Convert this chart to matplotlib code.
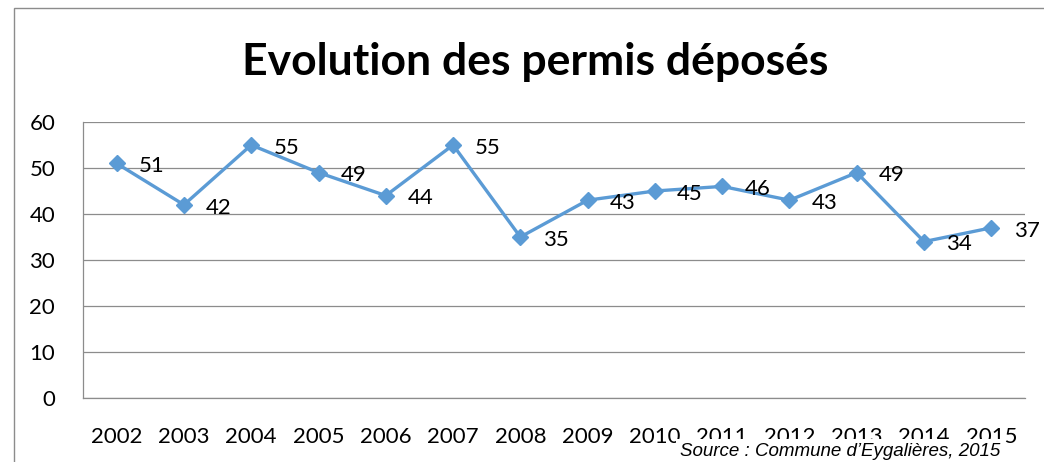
import matplotlib
matplotlib.use("Agg")
import matplotlib.pyplot as plt
from matplotlib.patches import Rectangle

years = ["2002", "2003", "2004", "2005", "2006", "2007", "2008", "2009",
         "2010", "2011", "2012", "2013", "2014", "2015"]
permits = [51, 42, 55, 49, 44, 55, 35, 43, 45, 46, 43, 49, 34, 37]
yticks = [0, 10, 20, 30, 40, 50, 60]

plt.rcParams['font.family'] = ['Lato', 'DejaVu Sans']

W, H = 1044, 462
fig = plt.figure(figsize=(W / 100, H / 100), dpi=100)
fig.patch.set_facecolor("white")

# outer chart border (cropped on right and bottom)
fig.patches.append(Rectangle((14 / W, -0.05), 1.1, (462 - 8) / H + 0.05,
                             transform=fig.transFigure, fill=False,
                             edgecolor="#8c8c8c", linewidth=1.0))

ax = fig.add_axes([83 / W, (H - 398) / H, (1025 - 83) / W, (398 - 122) / H])
x = list(range(len(years)))
ax.plot(x, permits, color="#5B9BD5", linewidth=2.4, marker="D",
        markersize=8, markerfacecolor="#5B9BD5", markeredgecolor="#5B9BD5",
        zorder=3)
for xi, v in zip(x, permits):
    ax.annotate(str(v), (xi, v), xytext=(16, -2), textcoords="offset points",
                ha="left", va="center", fontsize=16, color="black", zorder=4)

ax.set_xlim(-0.5, len(years) - 0.5)
ax.set_ylim(0, 60)
ax.set_yticks(yticks)
ax.set_xticks(x)
ax.set_xticklabels(years)
ax.yaxis.grid(True, color="#8c8c8c", linewidth=0.9)
ax.set_axisbelow(True)
ax.tick_params(axis="both", length=0, labelsize=16, colors="black")
ax.tick_params(axis="y", pad=20)
ax.tick_params(axis="x", pad=21)
for s in ["top", "right"]:
    ax.spines[s].set_visible(False)
for s in ["left", "bottom"]:
    ax.spines[s].set_color("#8c8c8c")
    ax.spines[s].set_linewidth(0.9)

fig.text(535 / W, 1 - 62 / H, "Evolution des permis déposés", ha="center",
         va="center", fontsize=32, fontweight="bold", color="black")

fig.text(1000 / W, 1 - 452 / H, "Source : Commune d’Eygalières, 2015",
         ha="right", va="center", fontsize=13.5, style="italic",
         family=["Liberation Sans", "DejaVu Sans"], color="black",
         bbox=dict(facecolor="white", edgecolor="none", pad=3), zorder=10)

fig.savefig("out.png", dpi=100)
